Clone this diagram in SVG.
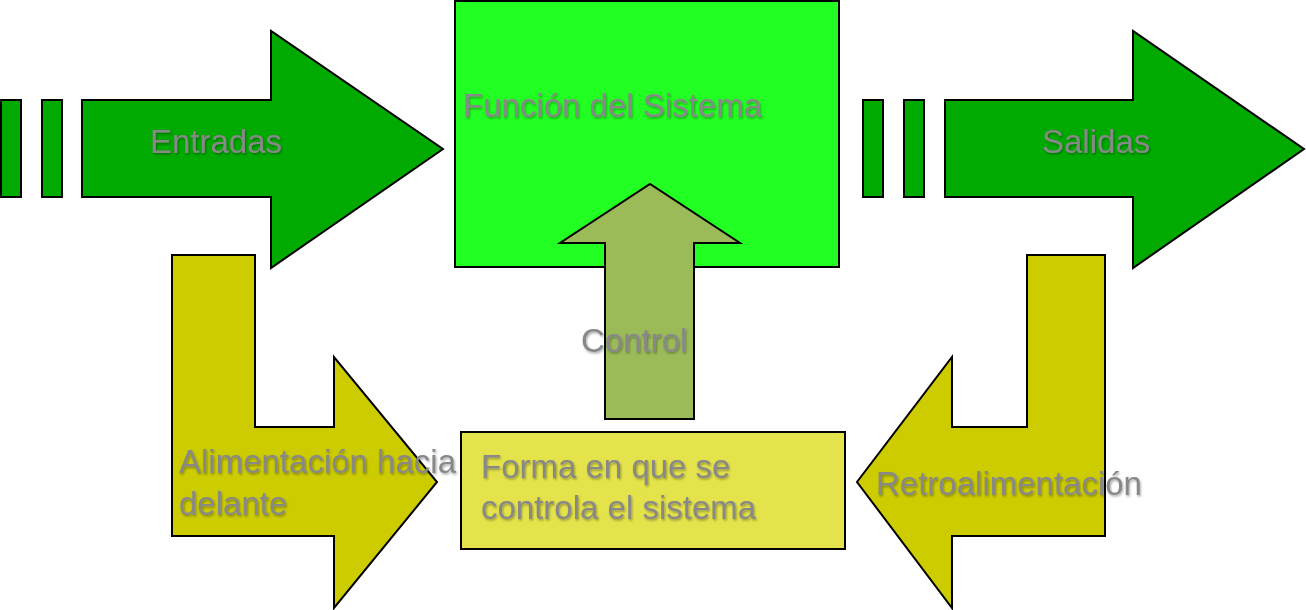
<svg xmlns="http://www.w3.org/2000/svg" width="1306" height="610" viewBox="0 0 1306 610">
  <defs>
    <filter id="sh" x="-10%" y="-30%" width="120%" height="160%">
      <feDropShadow dx="1" dy="1.5" stdDeviation="1" flood-color="#000000" flood-opacity="0.35"/>
    </filter>
  </defs>
  <style>
    .s { stroke: #000; stroke-width: 2; stroke-linejoin: miter; }
    .dg { fill: #00AA00; }
    .bg { fill: #22FF22; }
    .ol { fill: #CCCC00; }
    .ly { fill: #E5E34B; }
    .cg { fill: #9BBB59; }
    .t { font-family: "Liberation Sans", Arial, sans-serif; font-size: 33px; fill: #888888; filter: url(#sh); }
  </style>
  <g id="system">
    <rect class="s bg" x="455" y="1" width="384" height="266"/>
    <text class="t" x="463" y="117">Función del Sistema</text>
  </g>
  <g id="connectors">
    <g id="entradas">
      <rect class="s dg" x="1" y="100" width="20" height="97"/>
      <rect class="s dg" x="42" y="100" width="20" height="97"/>
      <path class="s dg" d="M82,100 L271,100 L271,31 L443,149 L271,268 L271,197 L82,197 Z"/>
      <text class="t" x="150" y="153">Entradas</text>
    </g>
    <g id="salidas">
      <rect class="s dg" x="863" y="100" width="20" height="97"/>
      <rect class="s dg" x="904" y="100" width="20" height="97"/>
      <path class="s dg" d="M945,100 L1133,100 L1133,31 L1304,149 L1133,268 L1133,197 L945,197 Z"/>
      <text class="t" x="1042" y="153">Salidas</text>
    </g>
    <g id="control">
      <path class="s cg" d="M605,419 L605,243 L560,243 L650,184 L740,243 L694,243 L694,419 Z"/>
      <text class="t" x="581" y="352">Control</text>
    </g>
    <g id="alimentacion">
      <path class="s ol" d="M172,255 L255,255 L255,427 L334,427 L334,357 L437,482 L334,608 L334,536 L172,536 Z"/>
    </g>
    <g id="retro">
      <path class="s ol" d="M1105,255 L1027,255 L1027,427 L952,427 L952,357 L857,482 L952,608 L952,536 L1105,536 Z"/>
    </g>
  </g>
  <g id="forma">
    <rect class="s ly" x="461" y="432" width="384" height="117"/>
    <text class="t" x="481" y="478">Forma en que se</text>
    <text class="t" x="481" y="519">controla el sistema</text>
  </g>
  <g id="labels">
    <text class="t" x="179" y="473">Alimentación hacia</text>
    <text class="t" x="179" y="515">delante</text>
    <text class="t" x="876" y="495">Retroalimentación</text>
  </g>
</svg>
